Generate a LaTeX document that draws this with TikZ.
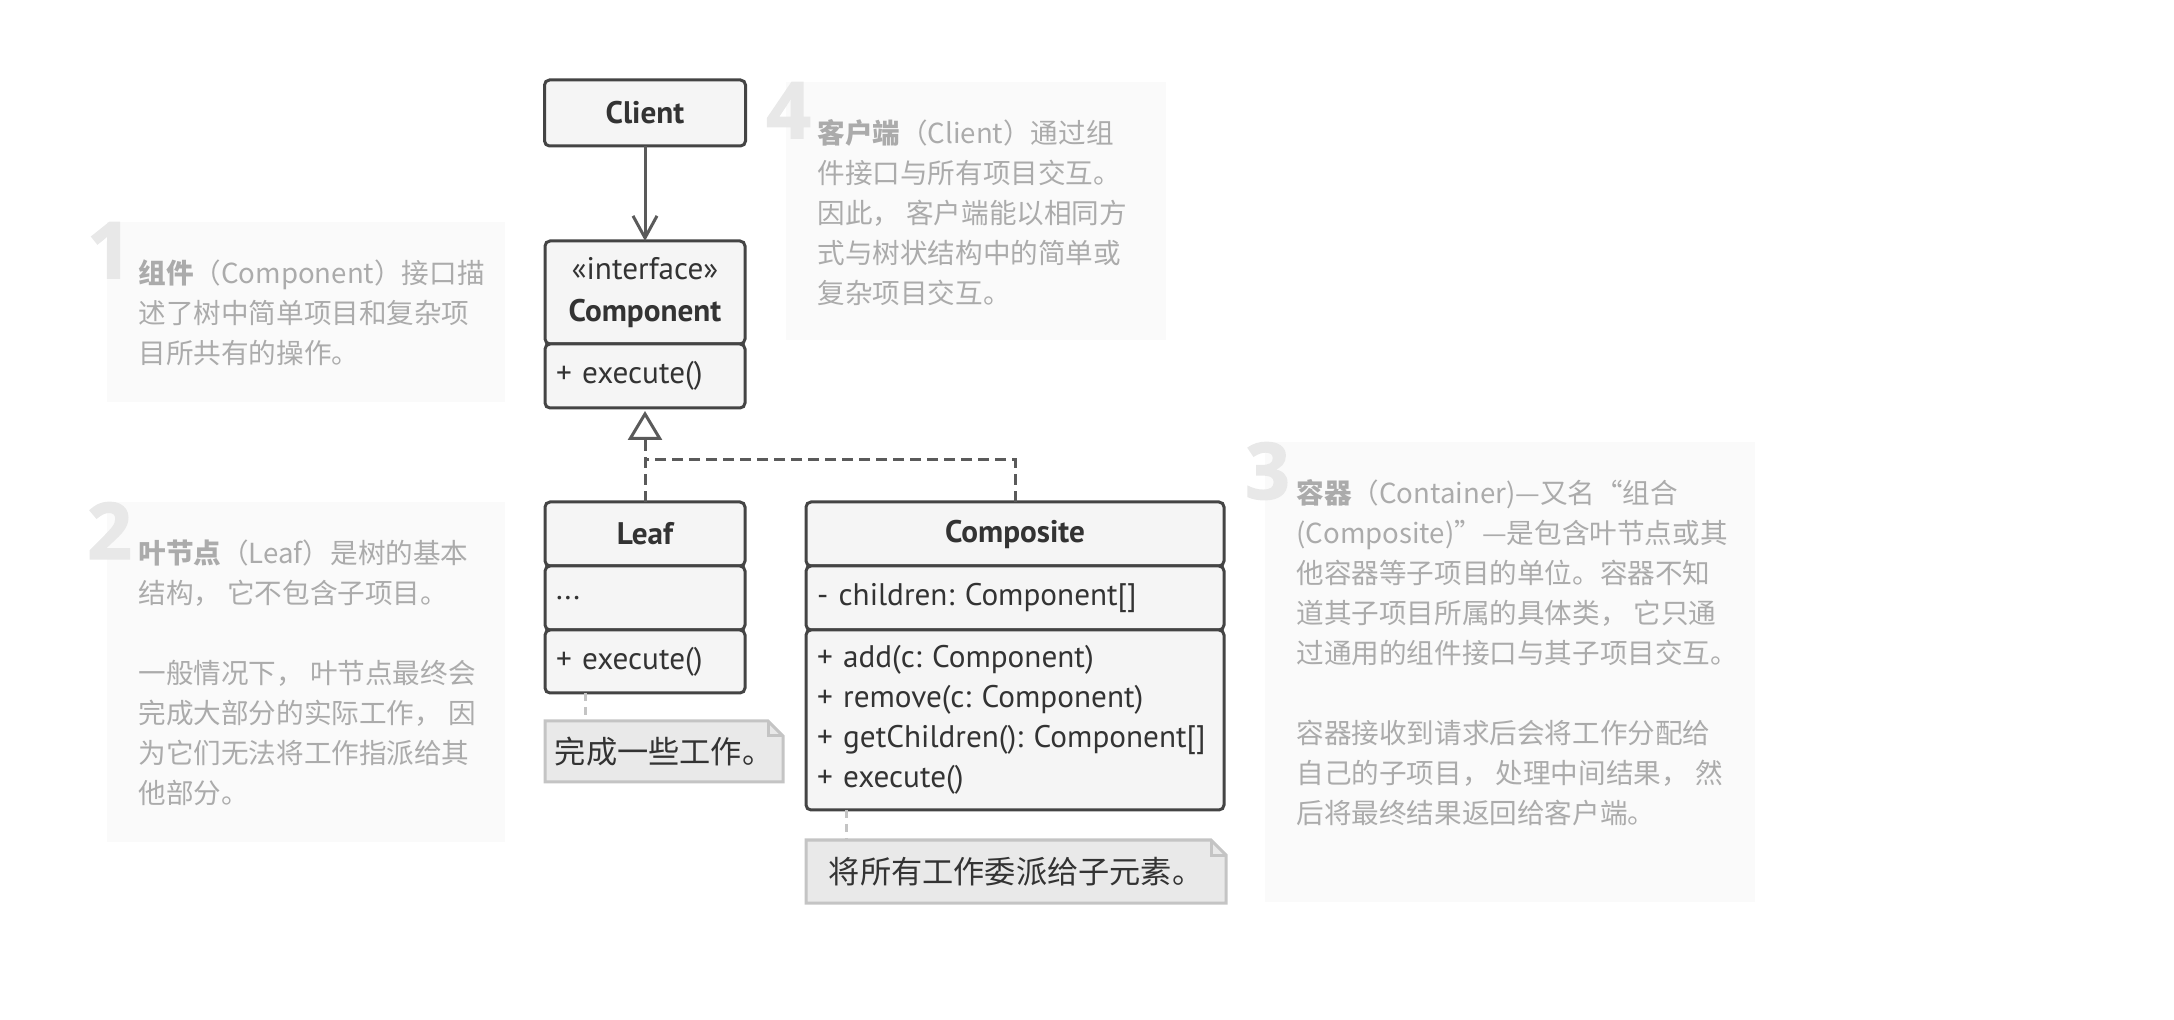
\documentclass[tikz,border=0pt]{standalone}
\usepackage{fontspec}
\setmainfont{PT Sans}
\newfontfamily\cjk{Noto Sans CJK SC}
\newfontfamily\numfont{Open Sans}[BoldFeatures={FakeBold=2}]
\usepackage{tikz}
\usetikzlibrary{positioning, arrows.meta, backgrounds}
\definecolor{umlLine}{HTML}{444444}
\definecolor{umlFill}{HTML}{F5F5F5}
\definecolor{umlText}{HTML}{333333}
\definecolor{arrowGrey}{HTML}{5A5A5A}
\definecolor{noteFill}{HTML}{E9E9E9}
\definecolor{noteLine}{HTML}{C4C4C4}
\definecolor{infoFill}{HTML}{FAFAFA}
\definecolor{infoText}{HTML}{ABABAB}
\definecolor{infoNum}{HTML}{E8E8E8}

\tikzset{
  part/.style={draw=umlLine, fill=umlFill, line width=1.5pt, rounded corners=2.5pt,
    inner xsep=5.5pt, inner ysep=0pt, outer sep=0pt, text=umlText,
    font=\fontsize{15.6pt}{20pt}\selectfont},
  head/.style={part, align=center, font=\fontsize{15.6pt}{21pt}\selectfont\bfseries},
  field/.style={part, align=left},
  notebox/.style={inner sep=0pt, outer sep=0pt, text=umlText, font=\cjk\fontsize{15.6pt}{20pt}\selectfont},
  noteedge/.style={draw=noteLine, fill=noteFill, line width=1.5pt, line join=miter},
  notelink/.style={draw=noteLine, line width=1.5pt, dash pattern=on 4pt off 3pt},
  assoc/.style={draw=arrowGrey, line width=1.5pt, -{Straight Barb[length=11pt, width=12pt, line width=1.5pt]}},
  realize/.style={draw=arrowGrey, line width=1.5pt, dash pattern=on 5.5pt off 3pt},
  infobox/.style={fill=infoFill, anchor=north west, inner sep=0pt, outer sep=0pt},
  infotext/.style={anchor=north west, inner sep=0pt, align=left, text=infoText,
    font=\cjk\fontsize{13.8pt}{20pt}\selectfont},
  infonum/.style={anchor=north, inner sep=0pt, text=infoNum, font=\numfont\fontsize{39pt}{39pt}\selectfont\bfseries}
}

\begin{document}
\frenchspacing
\begin{tikzpicture}[x=0.5pt, y=-0.5pt]
  \useasboundingbox (0,0) rectangle (2174,1020);

  % info boxes
  \node[infobox, minimum width=199pt, minimum height=90pt] (info1) at (107,222) {};
  \node[infobox, minimum width=199pt, minimum height=170pt] (info2) at (107,502) {};
  \node[infobox, minimum width=190pt, minimum height=129pt] (info4) at (786,82) {};
  \node[infobox, minimum width=245pt, minimum height=230pt] (info3) at (1265,442) {};
  \foreach \info/\num in {info1/1, info2/2, info3/3, info4/4}
    \node[infonum] (num\num) at ([xshift=1.25pt]\info.north west) {\num};

  \node[infotext] (text1) at ([xshift=15.5pt, yshift=-18.5pt]info1.north west)
    {\textbf{组件}（Component）接口描\\
     述了树中简单项目和复杂项\\
     目所共有的操作。};
  \node[infotext] (text2) at ([xshift=15.5pt, yshift=-18.5pt]info2.north west)
    {\textbf{叶节点}（Leaf）是树的基本\\
     结构， 它不包含子项目。\\[20pt]
     一般情况下， 叶节点最终会\\
     完成大部分的实际工作， 因\\
     为它们无法将工作指派给其\\
     他部分。};
  \node[infotext] (text4) at ([xshift=15.5pt, yshift=-18.5pt]info4.north west)
    {\textbf{客户端}（Client）通过组\\
     件接口与所有项目交互。\\
     因此， 客户端能以相同方\\
     式与树状结构中的简单或\\
     复杂项目交互。};
  \node[infotext] (text3) at ([xshift=15.5pt, yshift=-18.5pt]info3.north west)
    {\textbf{容器}（Container)—又名“组合\\
     (Composite)”—是包含叶节点或其\\
     他容器等子项目的单位。容器不知\\
     道其子项目所属的具体类， 它只通\\
     过通用的组件接口与其子项目交互。\\[20pt]
     容器接收到请求后会将工作分配给\\
     自己的子项目， 处理中间结果， 然\\
     后将最终结果返回给客户端。};

  % component + client
  \node[head, minimum width=100pt, minimum height=51.5pt] (iface) at (645,292.5) {{\mdseries «interface»}\\Component};
  \node[field, text width=89pt, minimum height=32pt, below=0pt of iface] (ifaceops) {+ execute()};
  \node[head, minimum width=100.5pt, minimum height=33pt, above=47.5pt of iface] (client) {Client};

  % leaf
  \node[head, minimum width=100pt, minimum height=32pt] (leaf) at (645,534) {Leaf};
  \node[field, text width=89pt, minimum height=32pt, below=0pt of leaf] (leafattrs) {...};
  \node[field, text width=89pt, minimum height=31.5pt, below=0pt of leafattrs] (leafops) {+ execute()};

  % composite
  \node[head, minimum width=209pt, minimum height=32pt, right=30.5pt of leaf] (composite) {Composite};
  \node[field, text width=198pt, minimum height=32pt, below=0pt of composite] (compattrs) {- children: Component[]};
  \node[field, text width=198pt, minimum height=90pt, below=0pt of compattrs] (compops)
    {+ add(c: Component)\\+ remove(c: Component)\\+ getChildren(): Component[]\\+ execute()};

  % notes
  \node[notebox, minimum width=119pt, minimum height=30.5pt, below=14pt of leafops.south west, anchor=north west] (leafnote) {完成一些工作。};
  \node[notebox, minimum width=210pt, minimum height=31.5pt, below=15pt of compops.south west, anchor=north west] (compnote) {将所有工作委派给子元素。};
  \begin{scope}[on background layer]
    \foreach \n in {leafnote, compnote} {
      \draw[noteedge] (\n.south west) -- (\n.north west) -- ([xshift=-7.5pt]\n.north east)
        -- ([yshift=-7.5pt]\n.north east) -- (\n.south east) -- cycle;
      \draw[noteedge, fill=none] ([xshift=-7.5pt]\n.north east) |- ([yshift=-7.5pt]\n.north east);
    }
  \end{scope}

  % connectors
  \draw[assoc] (client) -- (iface);
  \coordinate (join) at (645,460);
  \draw[realize, -{Triangle[open, fill=white, length=14.5pt, width=17pt, line width=1.5pt]}, shorten >=1.5pt] (leaf) -- (ifaceops);
  \draw[realize] (composite.north) |- (join);
  \draw[notelink] ([xshift=20pt]leafops.south west) -- ([xshift=20pt]leafnote.north west);
  \draw[notelink] ([xshift=20pt]compops.south west) -- ([xshift=20pt]compnote.north west);
\end{tikzpicture}
\end{document}
